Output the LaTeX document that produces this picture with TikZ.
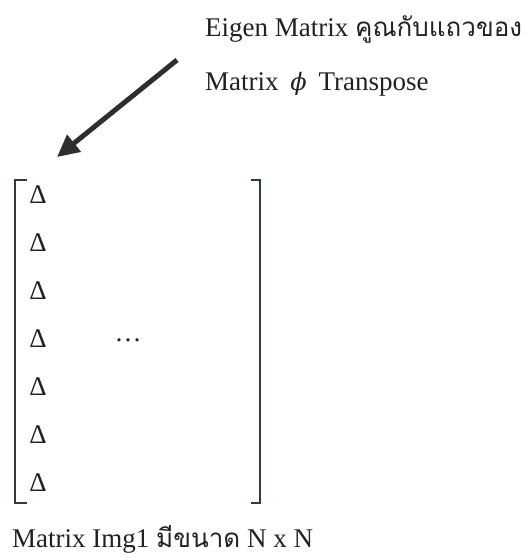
\documentclass[tikz,border=0pt]{standalone}
\usepackage{fontspec}
\setmainfont{Liberation Serif}
\newfontfamily\thaifont[Script=Thai]{Loma}
\newfontfamily\phifont{DejaVu Serif}
\usetikzlibrary{arrows.meta}
\definecolor{ink}{HTML}{222222}
\definecolor{brk}{HTML}{2F3D38}
\definecolor{arr}{HTML}{2E2E2E}
\begin{document}
\begin{tikzpicture}[x=1pt,y=-1pt,
  txt/.style={inner sep=0pt,anchor=base west,text=ink,font=\fontsize{27}{32}\selectfont},
  delta/.style={inner sep=0pt,anchor=center,text=ink,font=\fontsize{27}{32}\selectfont},
  brack/.style={draw=brk,line width=1.4pt},
  bigarrow/.style={draw=arr,line width=5pt,-{Triangle[length=22pt,width=21pt]}}]
\useasboundingbox (0,0) rectangle (532,558);
\node[txt] (l1) at (205,36) {Eigen Matrix {\thaifont\fontsize{26}{32}\selectfont คูณกับแถวของ}};
\node[txt] (l2) at (205,90) {Matrix\hspace{5pt} {\phifont\itshape\fontsize{24}{30}\selectfont ϕ}\hspace{5pt} Transpose};
\coordinate (as) at (177,60);
\coordinate (ae) at (57,157);
\draw[bigarrow] (as) -- (ae);
\draw[brack] (27,180) -- (15,180) -- (15,503) -- (27,503);
\draw[brack] (251,180) -- (260,180) -- (260,503) -- (251,503);
\foreach \i in {0,...,6}{
  \node[delta] (d\i) at (38,{195+48*\i}) {Δ};
}
\node[delta] (dots) at (128,340) {…};
\node[txt] (bot) at (12,547) {Matrix Img1 {\thaifont\fontsize{26}{32}\selectfont มีขนาด} N x N};
\end{tikzpicture}
\end{document}
